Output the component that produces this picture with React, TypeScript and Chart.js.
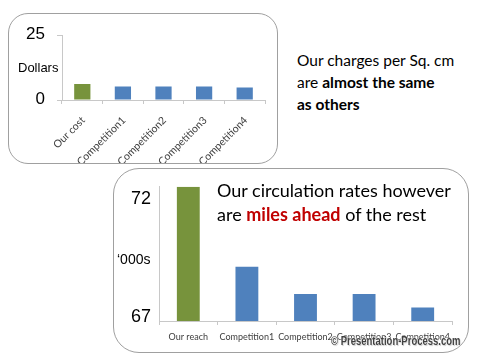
import React, { useEffect, useRef } from "react";
import { Chart, registerables } from "chart.js";

Chart.register(...registerables);

const topCategories = ["Our cost", "Competition1", "Competition2", "Competition3", "Competition4"];
const topValues = [6.2, 5.2, 5.2, 5.2, 4.8];
const topTicks = [0, 25];

const bottomCategories = ["Our reach", "Competition1", "Competition2", "Competition3", "Competition4"];
const bottomValues = [72.7, 69.3, 68.15, 68.15, 67.57];
const bottomTicks = [67, 72];

const GREEN = "#77933c";
const BLUE = "#4f81bd";

type BarProps = {
  labels: string[];
  values: number[];
  ticks: number[];
  min: number;
  max: number;
  left: number;
  top: number;
  width: number;
  height: number;
  yWidth: number;
  xHeight: number;
  padding: { top: number; right: number; left: number; bottom: number };
  rotate: boolean;
  xFont: number;
  xPad: number;
  xLabelOffset: number;
  yFont: number;
  yTickLen: number;
  yPad: number;
  yLabelOffset: number;
  barPct: number;
};

function BarChart(p: BarProps) {
  const ref = useRef<HTMLCanvasElement | null>(null);
  useEffect(() => {
    if (!ref.current) return;
    const chart = new Chart(ref.current, {
      type: "bar",
      data: {
        labels: p.labels,
        datasets: [
          {
            data: p.values,
            backgroundColor: p.values.map((_, i) => (i === 0 ? GREEN : BLUE)),
            borderWidth: 0,
            categoryPercentage: 1,
            barPercentage: p.barPct,
          },
        ],
      },
      options: {
        animation: false,
        responsive: false,
        maintainAspectRatio: false,
        layout: { padding: p.padding },
        plugins: { legend: { display: false }, tooltip: { enabled: false } },
        scales: {
          x: {
            afterFit: (s: any) => {
              s.height = p.xHeight;
            },
            border: { color: "#c8c8c8", width: 1 },
            grid: {
              offset: true,
              drawOnChartArea: false,
              drawTicks: true,
              tickLength: 4,
              color: "#c8c8c8",
            },
            ticks: {
              autoSkip: false,
              maxRotation: p.rotate ? 45 : 0,
              minRotation: p.rotate ? 45 : 0,
              padding: p.xPad,
              labelOffset: p.xLabelOffset,
              color: "#404040",
              font: { family: "Lato, 'Open Sans', sans-serif", size: p.xFont },
            },
          },
          y: {
            min: p.min,
            max: p.max,
            afterFit: (s: any) => {
              s.width = p.yWidth;
            },
            afterBuildTicks: (s: any) => {
              s.ticks = p.ticks.map((v) => ({ value: v }));
            },
            border: { color: "#c8c8c8", width: 1 },
            grid: {
              drawOnChartArea: false,
              drawTicks: p.yTickLen > 0,
              tickLength: p.yTickLen,
              color: "#c8c8c8",
            },
            ticks: {
              padding: p.yPad,
              labelOffset: p.yLabelOffset,
              color: "#000",
              font: { family: "Arial, 'Liberation Sans', sans-serif", size: p.yFont },
            },
          },
        },
      },
    });
    return () => chart.destroy();
  }, []);
  return (
    <canvas
      ref={ref}
      width={p.width}
      height={p.height}
      style={{ position: "absolute", left: p.left, top: p.top, width: p.width, height: p.height }}
    />
  );
}

export default function App() {
  const panel: React.CSSProperties = {
    position: "absolute",
    border: "1.5px solid #a0a0a0",
    background: "#fff",
    boxSizing: "border-box",
  };
  const calibri = "Lato, 'Open Sans', sans-serif";
  return (
    <div style={{ position: "absolute", left: 0, top: 0, width: 480, height: 361, background: "#fff", overflow: "hidden" }}>
      <div style={{ ...panel, left: 8, top: 13, width: 270, height: 151, borderRadius: 20 }} />
      <div style={{ ...panel, left: 113, top: 168, width: 356, height: 185, borderRadius: 26 }} />

      <BarChart
        labels={topCategories}
        values={topValues}
        ticks={topTicks}
        min={0}
        max={25}
        left={8}
        top={13}
        width={269}
        height={150}
        yWidth={54}
        xHeight={63}
        padding={{ top: 18, right: 12, left: 0, bottom: 0 }}
        rotate={true}
        xFont={10.5}
        xPad={10}
        xLabelOffset={1}
        yFont={17}
        yTickLen={5}
        yPad={12}
        yLabelOffset={-1}
        barPct={0.4}
      />
      <BarChart
        labels={bottomCategories}
        values={bottomValues}
        ticks={bottomTicks}
        min={67}
        max={72.7}
        left={113}
        top={168}
        width={355}
        height={184}
        yWidth={46}
        xHeight={31}
        padding={{ top: 17, right: 16, left: 0, bottom: 0 }}
        rotate={false}
        xFont={9}
        xPad={7}
        xLabelOffset={0}
        yFont={18}
        yTickLen={0}
        yPad={8}
        yLabelOffset={-4}
        barPct={0.39}
      />

      <div style={{ position: "absolute", left: 18, top: 60, fontFamily: "Arial, sans-serif", fontSize: 13, color: "#000" }}>
        Dollars
      </div>
      <div style={{ position: "absolute", left: 117, top: 251, fontFamily: "Arial, sans-serif", fontSize: 14, color: "#000" }}>
        ‘000s
      </div>

      <div
        style={{
          position: "absolute",
          left: 297,
          top: 49,
          fontFamily: calibri,
          fontSize: 15.5,
          lineHeight: "22px",
          color: "#000",
          whiteSpace: "nowrap",
        }}
      >
        Our charges per Sq. cm
        <br />
        are <b>almost the same</b>
        <br />
        <b>as others</b>
      </div>

      <div
        style={{
          position: "absolute",
          left: 217,
          top: 178,
          fontFamily: calibri,
          fontSize: 18,
          lineHeight: "24px",
          color: "#000",
          whiteSpace: "nowrap",
        }}
      >
        Our circulation rates however
        <br />
        are <b style={{ color: "#c00000" }}>miles ahead</b> of the rest
      </div>

      <div
        style={{
          position: "absolute",
          left: 331,
          top: 334,
          fontFamily: "Arial, sans-serif",
          fontWeight: "bold",
          fontSize: 12.5,
          color: "#404040",
          whiteSpace: "nowrap",
          transform: "scaleX(0.76)",
          transformOrigin: "0 0",
          textShadow: "0 0 2px #fff, 0 0 2px #fff, 1px 1px 1px #bbb",
        }}
      >
        © Presentation-Process.com
      </div>
    </div>
  );
}
